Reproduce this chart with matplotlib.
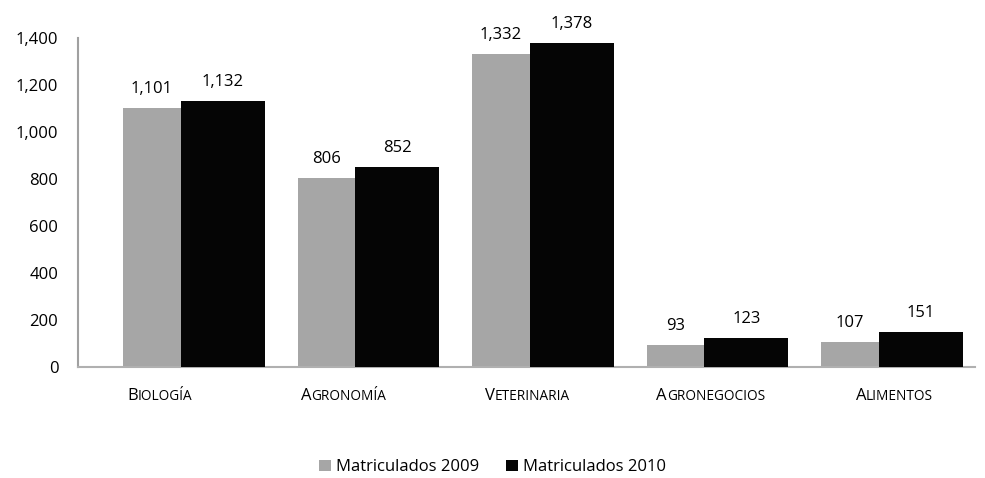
import numpy as np
import matplotlib
matplotlib.use("Agg")
import matplotlib.pyplot as plt
from matplotlib.offsetbox import TextArea, HPacker, AnnotationBbox

plt.rcParams['font.family'] = ['Open Sans', 'DejaVu Sans']

carreras = ["Biología", "Agronomía", "Veterinaria", "Agronegocios", "Alimentos"]
mat_2009 = [1101, 806, 1332, 93, 107]
mat_2010 = [1132, 852, 1378, 123, 151]
y_ticks = [0, 200, 400, 600, 800, 1000, 1200, 1400]

gris = "#a6a6a6"
negro = "#050505"

fig = plt.figure(figsize=(9.85, 4.78), dpi=100)
ax = fig.add_axes([0.079, 0.232, 0.911, 0.688])

x = np.arange(len(carreras))
b1 = ax.bar(x - 0.24, mat_2009, width=0.33, color=gris, label="Matriculados 2009", zorder=2)
b2 = ax.bar(x + 0.165, mat_2010, width=0.48, color=negro, label="Matriculados 2010", zorder=3)

for rect, v in zip(b1, mat_2009):
    ax.annotate(f"{v:,}", (rect.get_x() + rect.get_width() / 2, v), xytext=(0, 8),
                textcoords="offset points", ha="center", va="bottom", fontsize=12)
for rect, v in zip(b2, mat_2010):
    ax.annotate(f"{v:,}", (rect.get_x() + rect.get_width() / 2, v), xytext=(0, 8),
                textcoords="offset points", ha="center", va="bottom", fontsize=12)

ax.set_xlim(-0.665, 4.476)
ax.set_ylim(0, 1400)
ax.set_yticks(y_ticks)
ax.set_yticklabels([f"{t:,}" for t in y_ticks], fontsize=12)
ax.tick_params(axis="y", length=0, pad=14)
ax.set_xticks([])

for s in ["top", "right"]:
    ax.spines[s].set_visible(False)
ax.spines["left"].set_color("#a0a0a0")
ax.spines["left"].set_linewidth(1.5)
ax.spines["bottom"].set_color("#b0b0b0")
ax.spines["bottom"].set_linewidth(1.5)

# etiquetas en versalitas (la perspectiva las desplaza un poco a la izquierda)
for i, nombre in enumerate(carreras):
    up = nombre.upper()
    partes = [TextArea(up[0], textprops=dict(fontsize=12)),
              TextArea(up[1:], textprops=dict(fontsize=9.8))]
    caja = HPacker(children=partes, align="baseline", pad=0, sep=0)
    ab = AnnotationBbox(caja, (i - 0.195 + 0.052 * i, 0), xybox=(0, -21),
                        xycoords="data", boxcoords="offset points", frameon=False,
                        box_alignment=(0.5, 0.5), annotation_clip=False)
    ax.add_artist(ab)

fig.legend(handles=[b1, b2], loc="center", bbox_to_anchor=(0.5, 0.022),
           ncol=2, frameon=False, fontsize=12, handlelength=0.7, handleheight=0.7,
           handletextpad=0.3, columnspacing=1.6)

fig.savefig("out.png", dpi=100)
